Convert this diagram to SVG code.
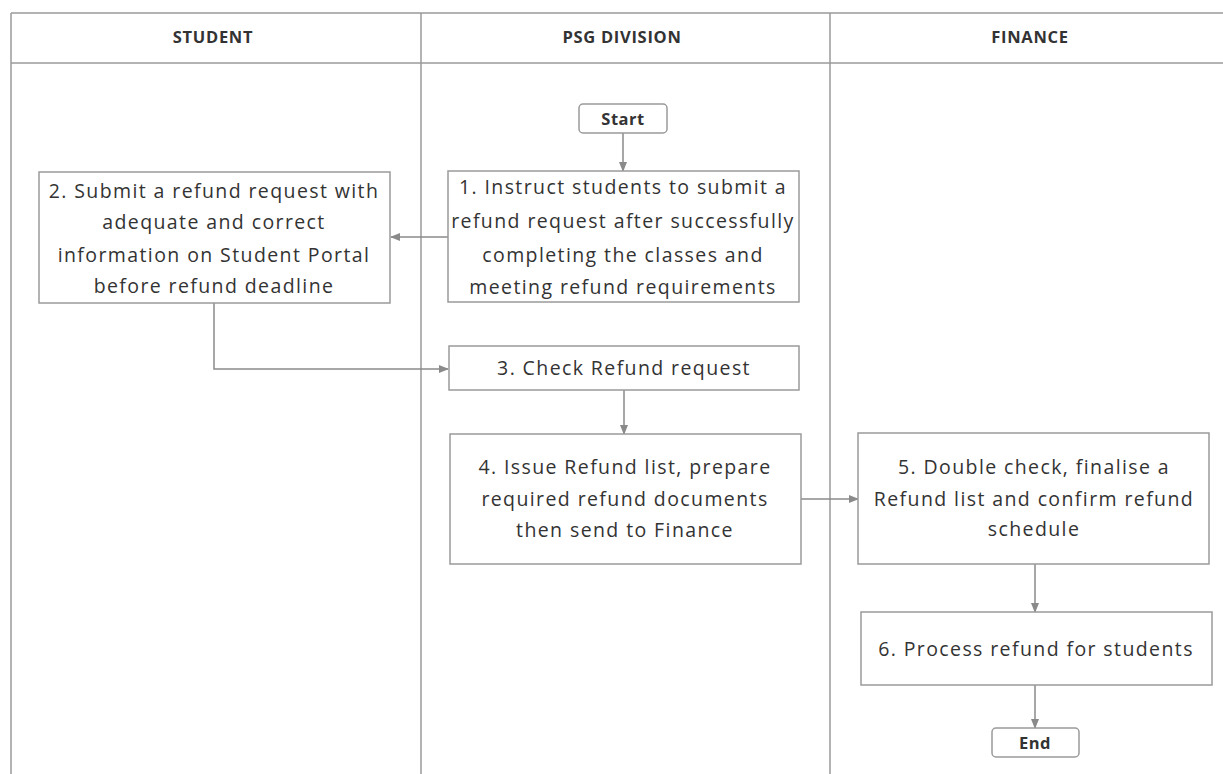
<svg xmlns="http://www.w3.org/2000/svg" width="1223" height="774" viewBox="0 0 1223 774">
<defs>
<marker id="ah" markerWidth="10" markerHeight="10" refX="9" refY="5" orient="auto" markerUnits="userSpaceOnUse">
<path d="M0,1 L10,5 L0,9 Z" fill="#8a8a8a"/>
</marker>
<style>
.lane{fill:none;stroke:#9a9a9a;stroke-width:1.5}
.box{fill:#ffffff;stroke:#9a9a9a;stroke-width:1.5}
.term{fill:#ffffff;stroke:#9a9a9a;stroke-width:1.5}
.conn{fill:none;stroke:#8a8a8a;stroke-width:1.5;marker-end:url(#ah)}
.hd{font-family:"Open Sans","Liberation Sans",sans-serif;font-size:16.5px;font-weight:bold;letter-spacing:0.7px;fill:#333;text-anchor:middle}
.tx{font-family:"Open Sans","Liberation Sans",sans-serif;font-size:19.5px;letter-spacing:1.4px;fill:#333;text-anchor:middle}
.tb{font-family:"Open Sans","Liberation Sans",sans-serif;font-size:16.5px;font-weight:bold;letter-spacing:0.5px;fill:#333;text-anchor:middle}
</style>
</defs>
<rect width="1223" height="774" fill="#ffffff"/>
<g id="lanes">
<line class="lane" x1="11" y1="13" x2="1223" y2="13"/>
<line class="lane" x1="11" y1="63" x2="1223" y2="63"/>
<line class="lane" x1="11" y1="13" x2="11" y2="774"/>
<line class="lane" x1="421" y1="13" x2="421" y2="774"/>
<line class="lane" x1="830" y1="13" x2="830" y2="774"/>
<text class="hd" x="213" y="43">STUDENT</text>
<text class="hd" x="622" y="43">PSG DIVISION</text>
<text class="hd" x="1030" y="43">FINANCE</text>
</g>
<g id="connectors">
<line class="conn" x1="623" y1="133" x2="623" y2="171"/>
<line class="conn" x1="448" y1="237" x2="391" y2="237"/>
<polyline class="conn" points="214,303 214,369 448,369"/>
<line class="conn" x1="624" y1="390" x2="624" y2="434"/>
<line class="conn" x1="801" y1="499" x2="858" y2="499"/>
<line class="conn" x1="1035" y1="564" x2="1035" y2="612"/>
<line class="conn" x1="1035" y1="685" x2="1035" y2="728"/>
</g>
<g id="start">
<rect class="term" x="579" y="104" width="88" height="29" rx="4"/>
<text class="tb" x="623" y="125">Start</text>
</g>
<g id="step1">
<rect class="box" x="448" y="171" width="351" height="131"/>
<text class="tx" x="623" y="194">1.  Instruct students to submit a</text>
<text class="tx" x="623" y="228">refund request after successfully</text>
<text class="tx" x="623" y="262">completing the classes and</text>
<text class="tx" x="623" y="294">meeting refund requirements</text>
</g>
<g id="step2">
<rect class="box" x="39" y="172" width="351" height="131"/>
<text class="tx" x="214" y="198">2. Submit a refund request with</text>
<text class="tx" x="214" y="229">adequate and correct</text>
<text class="tx" x="214" y="262">information on Student Portal</text>
<text class="tx" x="214" y="293">before refund deadline</text>
</g>
<g id="step3">
<rect class="box" x="449" y="346" width="350" height="44"/>
<text class="tx" x="624" y="375">3. Check Refund request</text>
</g>
<g id="step4">
<rect class="box" x="450" y="434" width="351" height="130"/>
<text class="tx" x="625" y="474">4. Issue Refund list, prepare</text>
<text class="tx" x="625" y="506">required refund documents</text>
<text class="tx" x="625" y="537">then send to Finance</text>
</g>
<g id="step5">
<rect class="box" x="858" y="433" width="351" height="131"/>
<text class="tx" x="1034" y="474">5. Double check, finalise a</text>
<text class="tx" x="1034" y="506">Refund list and confirm refund</text>
<text class="tx" x="1034" y="536">schedule</text>
</g>
<g id="step6">
<rect class="box" x="861" y="612" width="351" height="73"/>
<text class="tx" x="1036" y="656">6. Process refund for students</text>
</g>
<g id="end">
<rect class="term" x="992" y="728" width="87" height="29" rx="4"/>
<text class="tb" x="1035" y="749">End</text>
</g>
</svg>
